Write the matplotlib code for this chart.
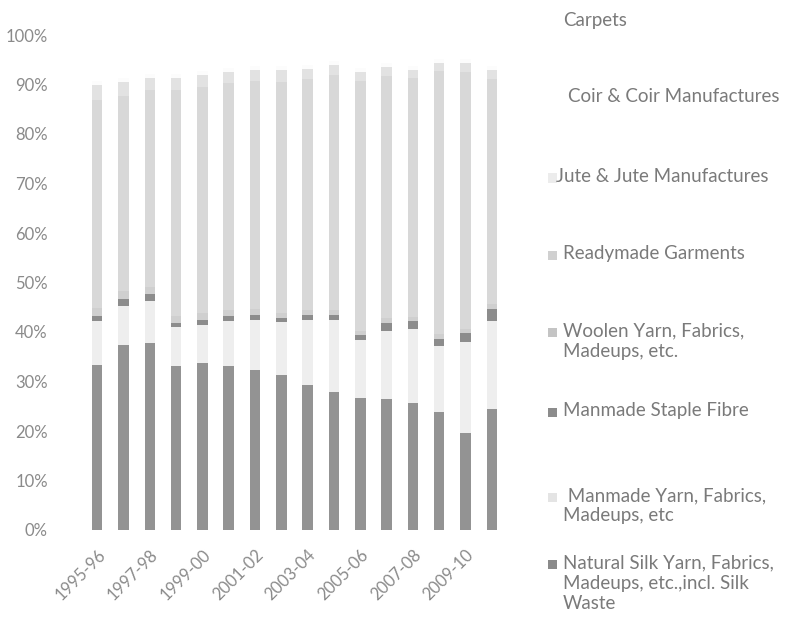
import matplotlib
matplotlib.use("Agg")
import matplotlib.pyplot as plt
from matplotlib.patches import Rectangle
import numpy as np

plt.rcParams['font.family'] = ['Lato', 'DejaVu Sans']

years = ['1995-96', '1996-97', '1997-98', '1998-99', '1999-00', '2000-01',
         '2001-02', '2002-03', '2003-04', '2004-05', '2005-06', '2006-07',
         '2007-08', '2008-09', '2009-10', '2010-11']

# shares in %, bottom of the stack first
silk = [33.3, 37.4, 37.8, 33.1, 33.7, 33.1, 32.3, 31.3, 29.3, 27.9, 26.7, 26.5, 25.7, 23.8, 19.6, 24.4]
manmade_yarn = [9.0, 7.8, 8.4, 7.9, 7.8, 9.2, 10.2, 10.7, 13.2, 14.6, 11.6, 13.8, 15.0, 13.3, 18.3, 17.8]
staple = [1.0, 1.5, 1.5, 0.8, 1.0, 1.0, 1.0, 0.8, 1.0, 1.0, 1.0, 1.5, 1.5, 1.5, 1.8, 2.5]
woolen = [1.5, 1.5, 1.4, 1.4, 1.3, 1.2, 1.2, 1.1, 1.0, 1.0, 1.0, 1.0, 0.9, 0.9, 0.9, 0.9]
garments = [42.1, 39.5, 39.7, 45.7, 45.7, 45.8, 46.0, 46.7, 46.6, 47.4, 50.4, 49.0, 48.2, 53.2, 51.9, 45.6]
jute = [3.0, 2.8, 2.6, 2.4, 2.4, 2.2, 2.2, 2.3, 2.1, 2.0, 1.8, 1.7, 1.7, 1.6, 1.8, 1.8]
coir = [0.8] * 16
carpets = [9.3, 8.7, 7.9, 7.9, 7.3, 6.7, 6.3, 6.3, 6.0, 5.3, 6.7, 5.7, 6.3, 4.9, 4.9, 6.3]

series = [
    ('Natural Silk', silk, '#939393'),
    ('Manmade Yarn', manmade_yarn, '#eeeeee'),
    ('Manmade Staple Fibre', staple, '#8c8c8c'),
    ('Woolen Yarn', woolen, '#cfcfcf'),
    ('Readymade Garments', garments, '#d8d8d8'),
    ('Jute', jute, '#e2e2e2'),
    ('Coir', coir, '#fcfcfc'),
    ('Carpets', carpets, '#ffffff'),
]

W, H = 795, 633
fig = plt.figure(figsize=(W / 100, H / 100), dpi=100)
ax = fig.add_axes([84 / W, 1 - 530 / H, (505 - 84) / W, (530 - 35) / H])

x = np.arange(len(years))
bottom = np.zeros(len(years))
for name, vals, col in series:
    ax.bar(x, vals, width=0.4, bottom=bottom, color=col, linewidth=0)
    bottom += np.array(vals)

ax.set_xlim(-0.5, len(years) - 0.5)
ax.set_ylim(0, 100)
ax.set_yticks(np.arange(0, 101, 10))
ax.set_yticklabels([f'{v}%' for v in range(0, 101, 10)])
ax.set_xticks(x[::2])
ax.set_xticklabels(years[::2], rotation=45, ha='right', va='top',
                   rotation_mode='anchor')
ax.tick_params(axis='y', length=0, pad=26, labelsize=12, labelcolor='#8a8a8a')
ax.tick_params(axis='x', length=0, pad=12, labelsize=12, labelcolor='#8a8a8a')
for s in ax.spines.values():
    s.set_visible(False)

# legend, drawn by hand to follow the reference spacing
legend_rows = [
    ('Carpets', '#ffffff', 22, 563),
    ('Coir & Coir Manufactures', '#ffffff', 98, 568),
    ('Jute & Jute Manufactures', '#ececec', 178, 556),
    ('Readymade Garments', '#d0d0d0', 255, 563),
    ('Woolen Yarn, Fabrics,\nMadeups, etc.', '#c4c4c4', 332, 563),
    ('Manmade Staple Fibre', '#8c8c8c', 412, 563),
    (' Manmade Yarn, Fabrics,\nMadeups, etc', '#e4e4e4', 497, 563),
    ('Natural Silk Yarn, Fabrics,\nMadeups, etc.,incl. Silk\nWaste', '#8a8a8a', 564, 563),
]
for label, col, yc, tx in legend_rows:
    fig.add_artist(Rectangle((548 / W, 1 - (yc + 4.5) / H), 9 / W, 9 / H,
                             transform=fig.transFigure, facecolor=col,
                             edgecolor='none',
                             hatch='xxxx' if label.startswith('Woolen') else None))
    fig.text(tx / W, 1 - (yc - 10) / H, label, fontsize=13.5, color='#7a7a7a',
             ha='left', va='top', linespacing=1.25)

fig.savefig('out.png', dpi=100, facecolor='white')
